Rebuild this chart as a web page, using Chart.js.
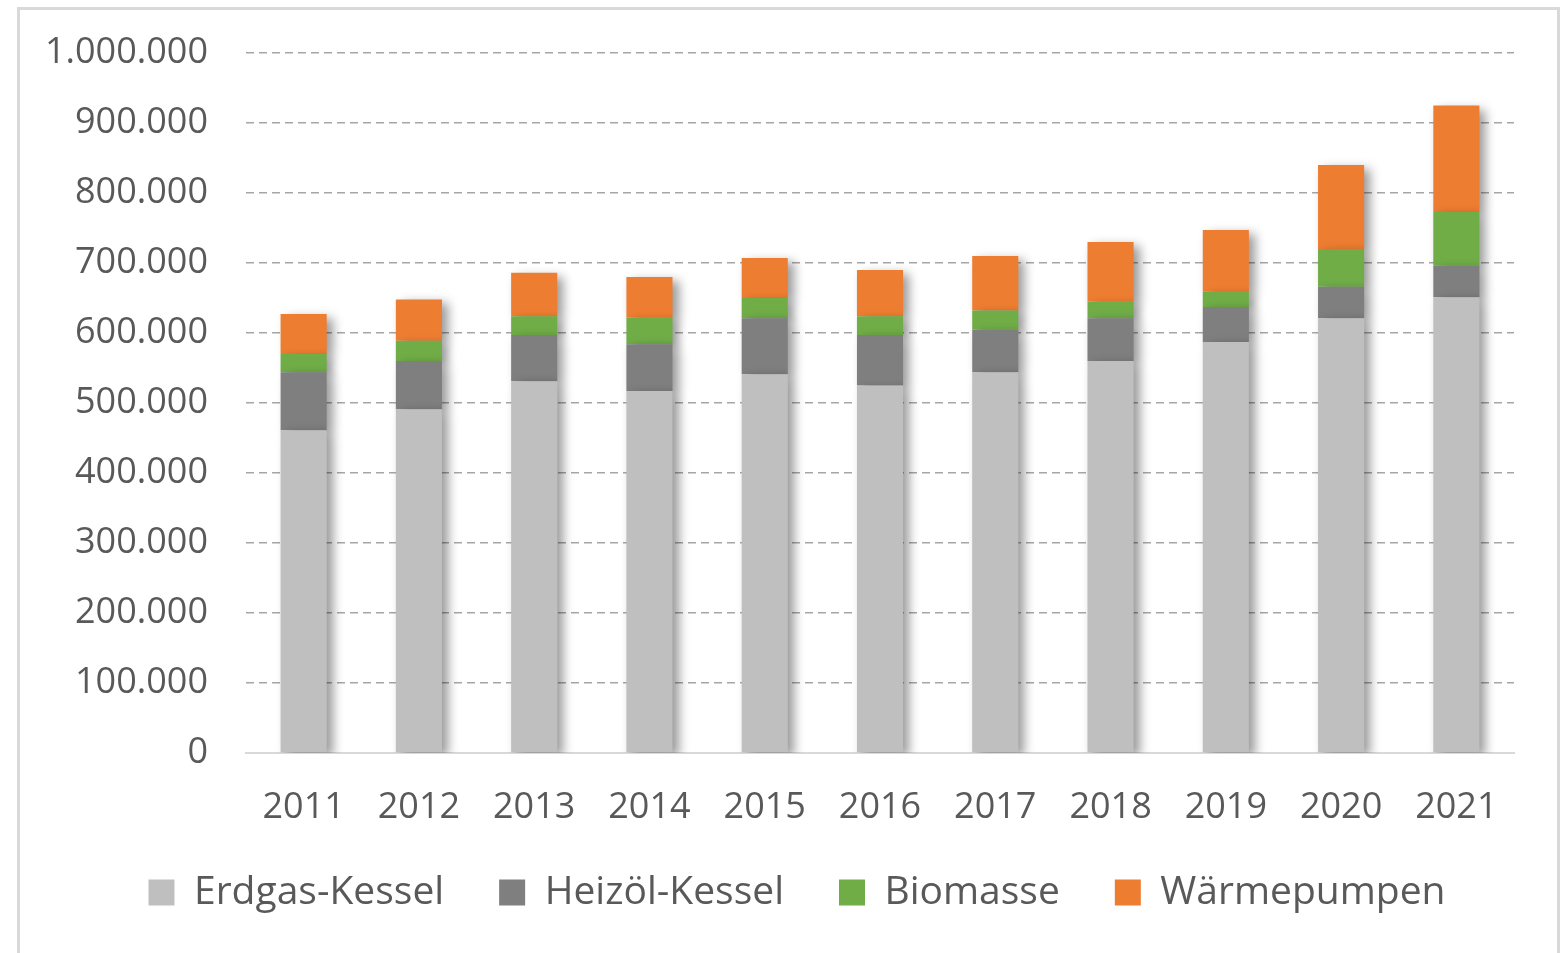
<!DOCTYPE html>
<html lang="de">
<head>
<meta charset="utf-8">
<title>Wärmeerzeuger 2011–2021</title>
<script src="https://cdn.jsdelivr.net/npm/chart.js@4.4.1/dist/chart.umd.min.js"></script>
<style>
  html, body { margin: 0; padding: 0; background: #fff; }
  #frame {
    position: absolute; left: 17px; top: 7px;
    width: 1537px; height: 960px;
    border: 3px solid #d9d9d9; border-bottom: none;
    background: #fff;
  }
  #wrap { position: absolute; left: 0; top: 0; width: 1537px; height: 946px; }
</style>
</head>
<body>
<div id="frame"><div id="wrap"><canvas id="chart"></canvas></div></div>
<script>
const years = ["2011", "2012", "2013", "2014", "2015", "2016", "2017", "2018", "2019", "2020", "2021"];
const erdgas      = [461000, 491000, 531000, 517000, 541000, 525000, 544000, 560000, 587000, 621000, 651000];
const heizoel     = [ 83000,  69000,  66000,  67000,  80000,  72000,  61000,  61000,  50000,  45000,  45000];
const biomasse    = [ 26000,  29000,  27000,  38000,  29000,  27000,  27000,  24000,  22000,  54000,  77000];
const waermepumpe = [ 57000,  59000,  62000,  58000,  57000,  66000,  78000,  85000,  88000, 120000, 152000];

const FONT = "'Open Sans', 'Liberation Sans', sans-serif";
const TXT = "#595959";

// 1000000 -> "1.000.000"
const fmtDE = v => String(Math.round(v)).replace(/\B(?=(\d{3})+(?!\d))/g, ".");

// Excel-like drop shadow behind the bars
const barShadow = {
  id: "barShadow",
  beforeDatasetsDraw(chart) {
    const ctx = chart.ctx;
    ctx.save();
    ctx.shadowColor = "rgba(0,0,0,0.4)";
    ctx.shadowBlur = 10;
    ctx.shadowOffsetX = 6;
    ctx.shadowOffsetY = 4;
  },
  afterDatasetsDraw(chart) {
    chart.ctx.restore();
  },
};

// legend in the original sits a bit right of the canvas centre
const legendShift = {
  id: "legendShift",
  afterLayout(chart) {
    chart.legend.left += 30;
    chart.legend.right += 30;
  },
};

const ds = (label, data, color) => ({
  label, data,
  backgroundColor: color,
  borderWidth: 0,
  categoryPercentage: 1,
  barPercentage: 0.4,
});

new Chart(document.getElementById("chart"), {
  type: "bar",
  data: {
    labels: years,
    datasets: [
      ds("Erdgas-Kessel", erdgas, "#bfbfbf"),
      ds("Heizöl-Kessel", heizoel, "#7f7f7f"),
      ds("Biomasse", biomasse, "#70ad47"),
      ds("Wärmepumpen", waermepumpe, "#ed7d31"),
    ],
  },
  plugins: [barShadow, legendShift],
  options: {
    responsive: true,
    maintainAspectRatio: false,
    animation: false,
    layout: { padding: { left: 0, right: 43, top: 43, bottom: 34 } },
    scales: {
      x: {
        stacked: true,
        afterFit: s => { s.height = 65; },
        grid: { display: false, drawTicks: false },
        border: { display: true, color: "#d9d9d9", width: 2 },
        ticks: { color: TXT, font: { family: FONT, size: 36 }, padding: 33 },
      },
      y: {
        stacked: true,
        min: 0, max: 1000000,
        afterFit: s => { s.width = 226; },
        // invisible tick marks give the label gap without extra top padding
        grid: { color: "#a6a6a6", lineWidth: 1.5, drawTicks: true, tickLength: 36, tickColor: "rgba(0,0,0,0)" },
        border: { display: false, dash: [8, 5] },
        ticks: {
          stepSize: 100000,
          color: TXT,
          padding: 2,
          font: { family: FONT, size: 36 },
          callback: v => fmtDE(v),
        },
      },
    },
    plugins: {
      tooltip: { enabled: false },
      legend: {
        position: "bottom",
        labels: {
          color: TXT,
          boxWidth: 26,
          boxHeight: 26,
          padding: 55,
          font: { family: FONT, size: 39 },
        },
      },
    },
  },
});
</script>
</body>
</html>
